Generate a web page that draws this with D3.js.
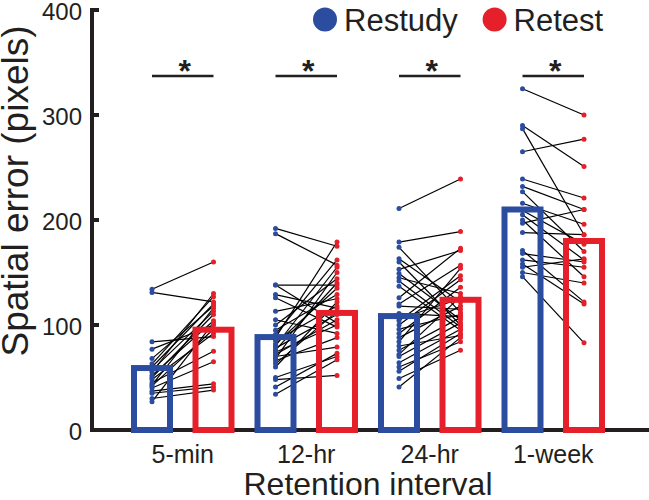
<!DOCTYPE html>
<html>
<head>
<meta charset="utf-8">
<script src="https://cdnjs.cloudflare.com/ajax/libs/d3/7.8.5/d3.min.js"></script>
<style>
  body { margin: 0; background: #fff; }
  text { font-family: "Liberation Sans", Arial, Helvetica, sans-serif; fill: #231f20; }
</style>
</head>
<body>
<div id="chart"></div>
<script>
// data
var intervals = ["5-min", "12-hr", "24-hr", "1-week"];
var conditions = ["Restudy", "Retest"];
var restudyMean = [59, 88.5, 108.5, 210];
var retestMean = [95.5, 111.5, 124, 180];
var yTicks = [0, 100, 200, 300, 400];

// individual subjects, paired restudy -> retest
var restudy5min = [134, 131, 84, 77, 68, 63, 60, 57, 55, 52, 50, 48, 45, 43, 42, 40, 37, 35, 30, 27];
var retest5min  = [160, 122, 89, 100, 118, 127, 120, 113, 130, 104, 110, 92, 75, 116, 96, 65, 44, 41, 38, 102];
var restudy12hr = [192, 187, 138, 138, 129, 126, 113, 105, 100, 95, 91, 88, 85, 82, 80, 78, 76, 74, 72, 70, 68, 66, 63, 60, 50, 48, 41, 34];
var retest12hr  = [175, 157, 138, 102, 116, 98, 125, 92, 144, 129, 162, 179, 118, 135, 155, 110, 140, 100, 105, 79, 150, 88, 113, 122, 70, 52, 73, 67];
var restudy24hr = [211, 179, 174, 163, 160, 153, 149, 145, 142, 137, 126, 120, 118, 111, 106, 104, 100, 96, 92, 88, 84, 80, 76, 72, 70, 64, 60, 56, 49, 41];
var retest24hr  = [239, 189, 112, 122, 100, 171, 105, 130, 98, 95, 173, 157, 115, 108, 125, 147, 143, 110, 136, 118, 154, 90, 107, 127, 102, 96, 84, 92, 76, 88];
var restudy1wk  = [325, 290, 287, 265, 239, 232, 227, 216, 209, 205, 200, 197, 188, 171, 168, 162, 158, 155, 150, 146];
var retest1wk   = [300, 251, 186, 277, 221, 210, 170, 196, 177, 162, 146, 210, 186, 122, 160, 155, 120, 163, 140, 83];

var restudyPts = [restudy5min, restudy12hr, restudy24hr, restudy1wk];
var retestPts = [retest5min, retest12hr, retest24hr, retest1wk];

var colors = { Restudy: "#2b4c9f", Retest: "#e6202a" };
var ink = "#231f20";

var svgWidth = 649;
var svgHeight = 500;

var svg = d3.select("#chart")
  .append("svg")
  .attr("width", svgWidth)
  .attr("height", svgHeight);

// scales
var x = d3.scaleBand()
  .domain(intervals)
  .range([121, 615]);

var xSub = d3.scalePoint()
  .domain(conditions)
  .range([-30.75, 30.75]);

var y = d3.scaleLinear()
  .domain([0, 400])
  .range([430, 10]);

function cx(interval, cond) {
  return x(interval) + x.bandwidth() / 2 + xSub(cond);
}

// flatten the paired points
var pairs = [];
intervals.forEach(function(iv, i) {
  restudyPts[i].forEach(function(v, j) {
    pairs.push({ interval: iv, restudy: v, retest: retestPts[i][j] });
  });
});

// connecting lines
svg.append("g")
  .selectAll("line")
  .data(pairs)
  .enter()
  .append("line")
  .attr("x1", d => cx(d.interval, "Restudy"))
  .attr("y1", d => y(d.restudy))
  .attr("x2", d => cx(d.interval, "Retest"))
  .attr("y2", d => y(d.retest))
  .attr("stroke", "#000")
  .attr("stroke-width", 1.2);

// dots
conditions.forEach(function(cond) {
  svg.append("g")
    .selectAll("circle")
    .data(pairs)
    .enter()
    .append("circle")
    .attr("cx", d => cx(d.interval, cond))
    .attr("cy", d => y(cond === "Restudy" ? d.restudy : d.retest))
    .attr("r", 2.5)
    .attr("fill", colors[cond]);
});

// axes
var leftAxis = d3.axisLeft(y)
  .tickValues(yTicks)
  .tickSize(0)
  .tickPadding(10);

var yAxisG = svg.append("g")
  .attr("transform", "translate(92,0)")
  .call(leftAxis);
yAxisG.select(".domain").remove();
yAxisG.selectAll("text")
  .attr("font-size", 24)
  .attr("font-family", null)
  .attr("dy", "0.4em")
  .style("fill", ink);

// inward ticks
svg.append("g")
  .selectAll("line")
  .data(yTicks)
  .enter()
  .append("line")
  .attr("x1", 92)
  .attr("x2", 99)
  .attr("y1", d => y(d))
  .attr("y2", d => y(d))
  .attr("stroke", ink)
  .attr("stroke-width", 4);

svg.append("line")
  .attr("x1", 92).attr("x2", 92)
  .attr("y1", y(400) - 2).attr("y2", y(0) + 2)
  .attr("stroke", ink)
  .attr("stroke-width", 4);

svg.append("line")
  .attr("x1", 90).attr("x2", svgWidth)
  .attr("y1", y(0)).attr("y2", y(0))
  .attr("stroke", ink)
  .attr("stroke-width", 4);

// bars (outline only, on top of points)
var barW = 36;
var barData = [];
intervals.forEach(function(iv, i) {
  barData.push({ interval: iv, cond: "Restudy", value: restudyMean[i] });
  barData.push({ interval: iv, cond: "Retest", value: retestMean[i] });
});

svg.append("g")
  .selectAll("rect")
  .data(barData)
  .enter()
  .append("rect")
  .attr("x", d => cx(d.interval, d.cond) - barW / 2)
  .attr("y", d => y(d.value))
  .attr("width", barW)
  .attr("height", d => y(0) - y(d.value))
  .attr("fill", "none")
  .attr("stroke", d => colors[d.cond])
  .attr("stroke-width", 6);

// x tick labels
svg.append("g")
  .selectAll("text")
  .data(intervals)
  .enter()
  .append("text")
  .attr("x", d => x(d) + x.bandwidth() / 2)
  .attr("y", 463)
  .attr("text-anchor", "middle")
  .attr("font-size", 25)
  .text(d => d);

// significance markers
var sig = svg.append("g");
sig.selectAll("line")
  .data(intervals)
  .enter()
  .append("line")
  .attr("x1", d => cx(d, "Restudy"))
  .attr("x2", d => cx(d, "Retest"))
  .attr("y1", 76)
  .attr("y2", 76)
  .attr("stroke", ink)
  .attr("stroke-width", 2.5);
sig.selectAll("text")
  .data(intervals)
  .enter()
  .append("text")
  .attr("x", d => x(d) + x.bandwidth() / 2 + 2)
  .attr("y", 82)
  .attr("text-anchor", "middle")
  .attr("font-size", 32)
  .attr("font-weight", "bold")
  .text("*");

// axis titles
svg.append("text")
  .attr("x", (121 + 615) / 2)
  .attr("y", 495)
  .attr("text-anchor", "middle")
  .attr("font-size", 32)
  .text("Retention interval");

svg.append("text")
  .attr("transform", "translate(28,191) rotate(-90)")
  .attr("text-anchor", "middle")
  .attr("font-size", 37)
  .text("Spatial error (pixels)");

// legend
var legendX = [325, 494.6];
var legend = svg.append("g")
  .selectAll("g")
  .data(conditions)
  .enter()
  .append("g")
  .attr("transform", (d, i) => `translate(${legendX[i]}, 19.6)`);
legend.append("circle")
  .attr("r", 12)
  .attr("fill", d => colors[d]);
legend.append("text")
  .attr("x", 19)
  .attr("y", 11.5)
  .attr("font-size", 31)
  .text(d => d);
</script>
</body>
</html>
